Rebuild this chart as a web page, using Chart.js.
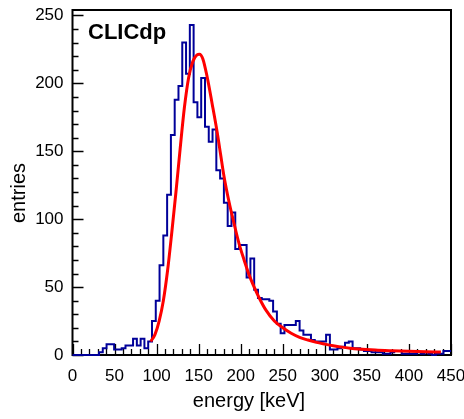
<!DOCTYPE html>
<html>
<head>
<meta charset="utf-8">
<script src="https://cdn.jsdelivr.net/npm/chart.js@4.4.1/dist/chart.umd.min.js"></script>
<style>
html,body{margin:0;padding:0;background:#fff;}
#wrap{width:464px;height:419px;}
</style>
</head>
<body>
<div id="wrap"><canvas id="c" width="464" height="419"></canvas></div>
<script>
// ---- data ----
const binWidth = 4.5;   // keV per histogram bin, first bin starts at 0 keV
const counts = [
  0,0,0,0,0,0,0,0,2,5,
  8,8,4,4,5,7,7,12,7,12,
  5,10,25,40,66,88,118,162,188,198,
  230,207,243,186,175,204,168,157,166,136,
  130,112,95,105,78,81,81,57,71,48,
  42,41,41,40,32,23,16,22,22,22,
  25,18,15,15,11,10,10,10,15,4,
  4,5,6,9,10,5,5,4,3,3,
  2,2,2,1,1,2,3,3,1,1,
  1,1,2,1,2,1,0,1,1,3
];
const fitX = [93,98,103,108,113,118,123,128,133,138,143,148,151,155,160,166,172,176,180,186,192,198,204,210,216,222,230,240,250,260,270,280,290,300,310,320,330,340,360,380,400,420,438];
const fitY = [10,15,25,40,62,90,120,152,182,204,216,221,221.5,218,205,185,164,148,132,113,97,82,70,59,50,42,33,25,20,16,13,11,9.3,8,6.8,5.8,5,4.4,3.6,3.1,2.7,2.4,2.2];
const xTickValues = [0,50,100,150,200,250,300,350,400,450];
const yTickValues = [0,50,100,150,200,250];
const xTitle = 'energy [keV]';
const yTitle = 'entries';
const label = 'CLICdp';

// ---- build datasets ----
const histPoints = counts.map((v,i)=>({x:i*binWidth, y:v}));
histPoints.push({x:counts.length*binWidth, y:counts[counts.length-1]});
const fitPoints = fitX.map((x,i)=>({x:x, y:fitY[i]}));

const FONT = "'Liberation Sans', Arial, Helvetica, sans-serif";

const framePlugin = {
  id:'frameTicks',
  beforeDatasetsDraw(chart){
    const {ctx, chartArea:a, scales:{x,y}} = chart;
    ctx.save();
    ctx.strokeStyle = '#000';
    ctx.lineWidth = 1.3;
    ctx.beginPath();
    for (let v = 0; v <= x.max + 1e-9; v += 10){
      const px = Math.round(x.getPixelForValue(v)) + 0.5;
      const len = (v % 50 === 0) ? 11 : 6;
      ctx.moveTo(px, a.bottom); ctx.lineTo(px, a.bottom - len);
    }
    for (let v = 0; v <= y.max; v += 10){
      const py = Math.round(y.getPixelForValue(v)) + 0.5;
      const len = (v % 50 === 0) ? 11 : 6;
      ctx.moveTo(a.left, py); ctx.lineTo(a.left + len, py);
    }
    ctx.stroke();
    ctx.lineWidth = 2;
    ctx.strokeRect(a.left, a.top, a.right - a.left, a.bottom - a.top);
    ctx.restore();
  },
  afterDraw(chart){
    const {ctx} = chart;
    ctx.save();
    ctx.fillStyle = '#000';
    ctx.font = "20px " + FONT;
    ctx.textAlign = 'center';
    ctx.textBaseline = 'middle';
    ctx.fillText(xTitle, 249, 401);
    ctx.save();
    ctx.translate(19, 193);
    ctx.rotate(-Math.PI/2);
    ctx.fillText(yTitle, 0, 0);
    ctx.restore();
    ctx.font = "bold 22px " + FONT;
    ctx.textAlign = 'left';
    ctx.textBaseline = 'alphabetic';
    ctx.fillText(label, 88, 39);
    ctx.restore();
  }
};

new Chart(document.getElementById('c'), {
  type:'line',
  data:{
    datasets:[
      {
        label:'histogram',
        data:histPoints,
        stepped:'after',
        borderColor:'#000099',
        borderWidth:2,
        pointRadius:0,
        fill:false,
        clip:4,
        order:2
      },
      {
        label:'fit',
        data:fitPoints,
        borderColor:'#ff0000',
        borderWidth:3,
        pointRadius:0,
        fill:false,
        cubicInterpolationMode:'monotone',
        clip:4,
        order:1
      }
    ]
  },
  options:{
    responsive:false,
    animation:false,
    layout:{padding:{top:10,right:13,left:0,bottom:0}},
    plugins:{legend:{display:false},tooltip:{enabled:false}},
    scales:{
      x:{
        type:'linear', min:0, max:450,
        grid:{display:false, drawTicks:false},
        border:{display:false},
        afterBuildTicks(s){ s.ticks = xTickValues.map(v=>({value:v})); },
        afterFit(s){ s.height = 64; s.paddingLeft = 0; s.paddingRight = 0; s.paddingTop = 0; s.paddingBottom = 0; },
        ticks:{color:'#000', font:{family:FONT, size:17}, padding:11, maxRotation:0, autoSkip:false}
      },
      y:{
        type:'linear', min:0, max:254,
        grid:{display:false, drawTicks:false},
        border:{display:false},
        afterBuildTicks(s){ s.ticks = yTickValues.map(v=>({value:v})); },
        afterFit(s){ s.width = 72.5; s.paddingLeft = 0; s.paddingRight = 0; s.paddingTop = 0; s.paddingBottom = 0; },
        ticks:{color:'#000', font:{family:FONT, size:17}, padding:9, autoSkip:false}
      }
    }
  },
  plugins:[framePlugin]
});
</script>
</body>
</html>
